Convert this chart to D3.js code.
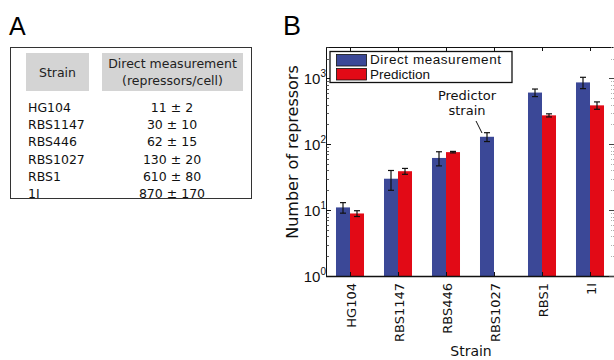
<!DOCTYPE html>
<html>
<head>
<meta charset="utf-8">
<script src="https://cdn.jsdelivr.net/npm/d3@7"></script>
<style>
  body { margin: 0; background: #fff; }
  svg { display: block; font-family: "DejaVu Sans", sans-serif; }
</style>
</head>
<body>
<div id="chart"></div>
<script>
// data
const strains = ['HG104', 'RBS1147', 'RBS446', 'RBS1027', 'RBS1', '1I'];
const tableValues = ['11 ± 2', '30 ± 10', '62 ± 15', '130 ± 20', '610 ± 80', '870 ± 170'];
const measured = [11, 30, 62, 130, 610, 870];
const measuredErr = [2, 10, 15, 20, 80, 170];
const predicted = [8.9, 39, 76, null, 275, 390];
const predictedErr = [0.9, 4, 2, null, 15, 50];
const yTicks = [1, 10, 100, 1000];

const W = 614, H = 360;
const BLUE = '#3b4897', RED = '#e20a16';

const svg = d3.select('#chart').append('svg')
    .attr('width', W).attr('height', H);

// ---- Panel A: table ----
svg.append('text').attr('x', 9).attr('y', 35)
    .attr('font-size', '25px').attr('font-family', 'Liberation Sans, Arial, sans-serif')
    .text('A');

svg.append('rect').attr('x', 10.5).attr('y', 47.5).attr('width', 241).attr('height', 151)
    .attr('fill', 'none').attr('stroke', '#333').attr('stroke-width', 1);

svg.append('rect').attr('x', 26).attr('y', 53).attr('width', 63).attr('height', 38).attr('fill', '#d4d4d4');
svg.append('rect').attr('x', 102).attr('y', 53).attr('width', 141).attr('height', 38).attr('fill', '#d4d4d4');

const tfont = '12.5px';
svg.append('text').attr('x', 57.5).attr('y', 77).attr('text-anchor', 'middle')
    .attr('font-size', tfont).attr('fill', '#222').text('Strain');
svg.append('text').attr('x', 172.5).attr('y', 68).attr('text-anchor', 'middle')
    .attr('font-size', tfont).attr('fill', '#222').text('Direct measurement');
svg.append('text').attr('x', 172.5).attr('y', 85).attr('text-anchor', 'middle')
    .attr('font-size', tfont).attr('fill', '#222').text('(repressors/cell)');

const rowY = d3.scalePoint().domain(strains).range([112, 198]);
strains.forEach((s, i) => {
    svg.append('text').attr('x', 28).attr('y', rowY(s))
        .attr('font-size', tfont).attr('fill', '#111').text(s);
    svg.append('text').attr('x', 172).attr('y', rowY(s)).attr('text-anchor', 'middle')
        .attr('font-size', tfont).attr('fill', '#111').text(tableValues[i]);
});

// ---- Panel B: bar chart ----
svg.append('text').attr('x', 283).attr('y', 35)
    .attr('font-size', '27px').attr('font-family', 'Liberation Sans, Arial, sans-serif')
    .text('B');

const pLeft = 326, pRight = 614, pTop = 47, pBottom = 276;

const x = d3.scaleBand().domain(strains).range([pLeft, pRight]).padding(0);
const xs = d3.scaleBand().domain(['m', 'p']).range([0, x.bandwidth()]).paddingInner(0).paddingOuter(0.714);
const y = d3.scaleLog().domain([1, 3000]).range([pBottom, pTop]);

const plot = svg.append('g');

// bars
plot.selectAll('.bm').data(strains).join('rect')
    .attr('x', d => x(d) + xs('m'))
    .attr('y', (d, i) => y(measured[i]))
    .attr('width', xs.bandwidth())
    .attr('height', (d, i) => pBottom - y(measured[i]))
    .attr('fill', BLUE);

plot.selectAll('.bp').data(strains.filter((d, i) => predicted[i] != null)).join('rect')
    .attr('x', d => x(d) + xs('p'))
    .attr('y', d => y(predicted[strains.indexOf(d)]))
    .attr('width', xs.bandwidth())
    .attr('height', d => pBottom - y(predicted[strains.indexOf(d)]))
    .attr('fill', RED);

// error bars
function errBar(cx, v, e) {
    const g = plot.append('g').attr('stroke', '#111').attr('stroke-width', 1.2);
    const y0 = y(v - e), y1 = y(v + e);
    g.append('line').attr('x1', cx).attr('x2', cx).attr('y1', y0).attr('y2', y1);
    g.append('line').attr('x1', cx - 3).attr('x2', cx + 3).attr('y1', y0).attr('y2', y0);
    g.append('line').attr('x1', cx - 3).attr('x2', cx + 3).attr('y1', y1).attr('y2', y1);
}
strains.forEach((s, i) => {
    errBar(x(s) + xs('m') + xs.bandwidth() / 2, measured[i], measuredErr[i]);
    if (predicted[i] != null) errBar(x(s) + xs('p') + xs.bandwidth() / 2, predicted[i], predictedErr[i]);
});

// axes frame
const axisColor = '#111';
svg.append('line').attr('x1', pLeft).attr('x2', pRight).attr('y1', pTop + 0.5).attr('y2', pTop + 0.5)
    .attr('stroke', axisColor).attr('stroke-width', 1);
svg.append('line').attr('x1', pLeft).attr('x2', pRight).attr('y1', pBottom + 0.5).attr('y2', pBottom + 0.5)
    .attr('stroke', axisColor).attr('stroke-width', 1.5);
svg.append('line').attr('x1', pLeft + 0.5).attr('x2', pLeft + 0.5).attr('y1', pTop).attr('y2', pBottom)
    .attr('stroke', axisColor).attr('stroke-width', 1);

// minor + major ticks on left axis (inside)
const minor = [];
for (let dec = 1; dec <= 1000; dec *= 10) {
    for (let k = 2; k <= 9; k++) if (dec * k <= 3000) minor.push(dec * k);
}
svg.selectAll('.ymin').data(minor).join('line')
    .attr('x1', pLeft).attr('x2', pLeft + 3)
    .attr('y1', d => Math.round(y(d)) + 0.5).attr('y2', d => Math.round(y(d)) + 0.5)
    .attr('stroke', '#333').attr('stroke-width', 0.8);
svg.selectAll('.ymaj').data(yTicks).join('line')
    .attr('x1', pLeft).attr('x2', pLeft + 5)
    .attr('y1', d => Math.round(y(d)) + 0.5).attr('y2', d => Math.round(y(d)) + 0.5)
    .attr('stroke', '#111').attr('stroke-width', 1);

// right-side ticks (cut off axis)
svg.selectAll('.rmin').data(minor).join('line')
    .attr('x1', pRight - 3).attr('x2', pRight)
    .attr('y1', d => Math.round(y(d)) + 0.5).attr('y2', d => Math.round(y(d)) + 0.5)
    .attr('stroke', '#999').attr('stroke-width', 0.8).attr('stroke-dasharray', '1,1');
svg.selectAll('.rmaj').data(yTicks).join('line')
    .attr('x1', pRight - 5).attr('x2', pRight)
    .attr('y1', d => Math.round(y(d)) + 0.5).attr('y2', d => Math.round(y(d)) + 0.5)
    .attr('stroke', '#444').attr('stroke-width', 1);

// y tick labels
const yl = svg.selectAll('.ylab').data(yTicks).join('text')
    .attr('x', 326).attr('y', d => y(d) + 5.5)
    .attr('text-anchor', 'end').attr('font-size', '15px').attr('fill', '#111')
    .attr('font-family', 'Liberation Sans, Arial, sans-serif');
yl.append('tspan').text('10');
yl.append('tspan').attr('dy', -7).attr('font-size', '10px').text(d => Math.round(Math.log10(d)));

// x ticks top & bottom (inside)
svg.selectAll('.xt').data(strains).join('line')
    .attr('x1', d => Math.round(x(d) + x.bandwidth() / 2) + 0.5)
    .attr('x2', d => Math.round(x(d) + x.bandwidth() / 2) + 0.5)
    .attr('y1', pTop).attr('y2', pTop + 4)
    .attr('stroke', '#111');
svg.selectAll('.xb').data(strains).join('line')
    .attr('x1', d => Math.round(x(d) + x.bandwidth() / 2) + 0.5)
    .attr('x2', d => Math.round(x(d) + x.bandwidth() / 2) + 0.5)
    .attr('y1', pBottom - 4).attr('y2', pBottom)
    .attr('stroke', '#111');

// x tick labels rotated
svg.selectAll('.xlab').data(strains).join('text')
    .attr('transform', d => `translate(${x(d) + x.bandwidth() / 2 + 6},${pBottom + 7}) rotate(-90)`)
    .attr('text-anchor', 'end').attr('font-size', '13px').attr('fill', '#111')
    .text(d => d);

// axis titles
svg.append('text').attr('x', 471).attr('y', 356).attr('text-anchor', 'middle')
    .attr('font-size', '14px').attr('fill', '#111').text('Strain');
svg.append('text').attr('transform', `translate(298,152) rotate(-90)`)
    .attr('text-anchor', 'middle').attr('font-size', '16px').attr('fill', '#111')
    .text('Number of repressors');

// annotation
svg.append('text').attr('x', 467).attr('y', 100).attr('text-anchor', 'middle')
    .attr('font-size', '13px').attr('fill', '#111').text('Predictor');
svg.append('text').attr('x', 467).attr('y', 115).attr('text-anchor', 'middle')
    .attr('font-size', '13px').attr('fill', '#111').text('strain');
svg.append('line').attr('x1', 476).attr('y1', 121).attr('x2', 482).attr('y2', 133)
    .attr('stroke', '#111').attr('stroke-width', 1);

// legend
const lg = svg.append('g');
lg.append('rect').attr('x', 330).attr('y', 51.5).attr('width', 182).attr('height', 31)
    .attr('fill', '#fff').attr('stroke', '#111').attr('stroke-width', 1.3);
[{ c: BLUE, t: 'Direct measurement' }, { c: RED, t: 'Prediction' }].forEach((it, i) => {
    lg.append('rect').attr('x', 336.5).attr('y', 54.5 + i * 14).attr('width', 30).attr('height', 11.5)
        .attr('fill', it.c).attr('stroke', '#111').attr('stroke-width', 0.8);
    lg.append('text').attr('x', 370).attr('y', 64 + i * 15)
        .attr('font-size', '13.5px').attr('font-family', 'Liberation Sans, Arial, sans-serif')
        .attr('textLength', i === 0 ? 131 : null)
        .attr('fill', '#111').text(it.t);
});
</script>
</body>
</html>
